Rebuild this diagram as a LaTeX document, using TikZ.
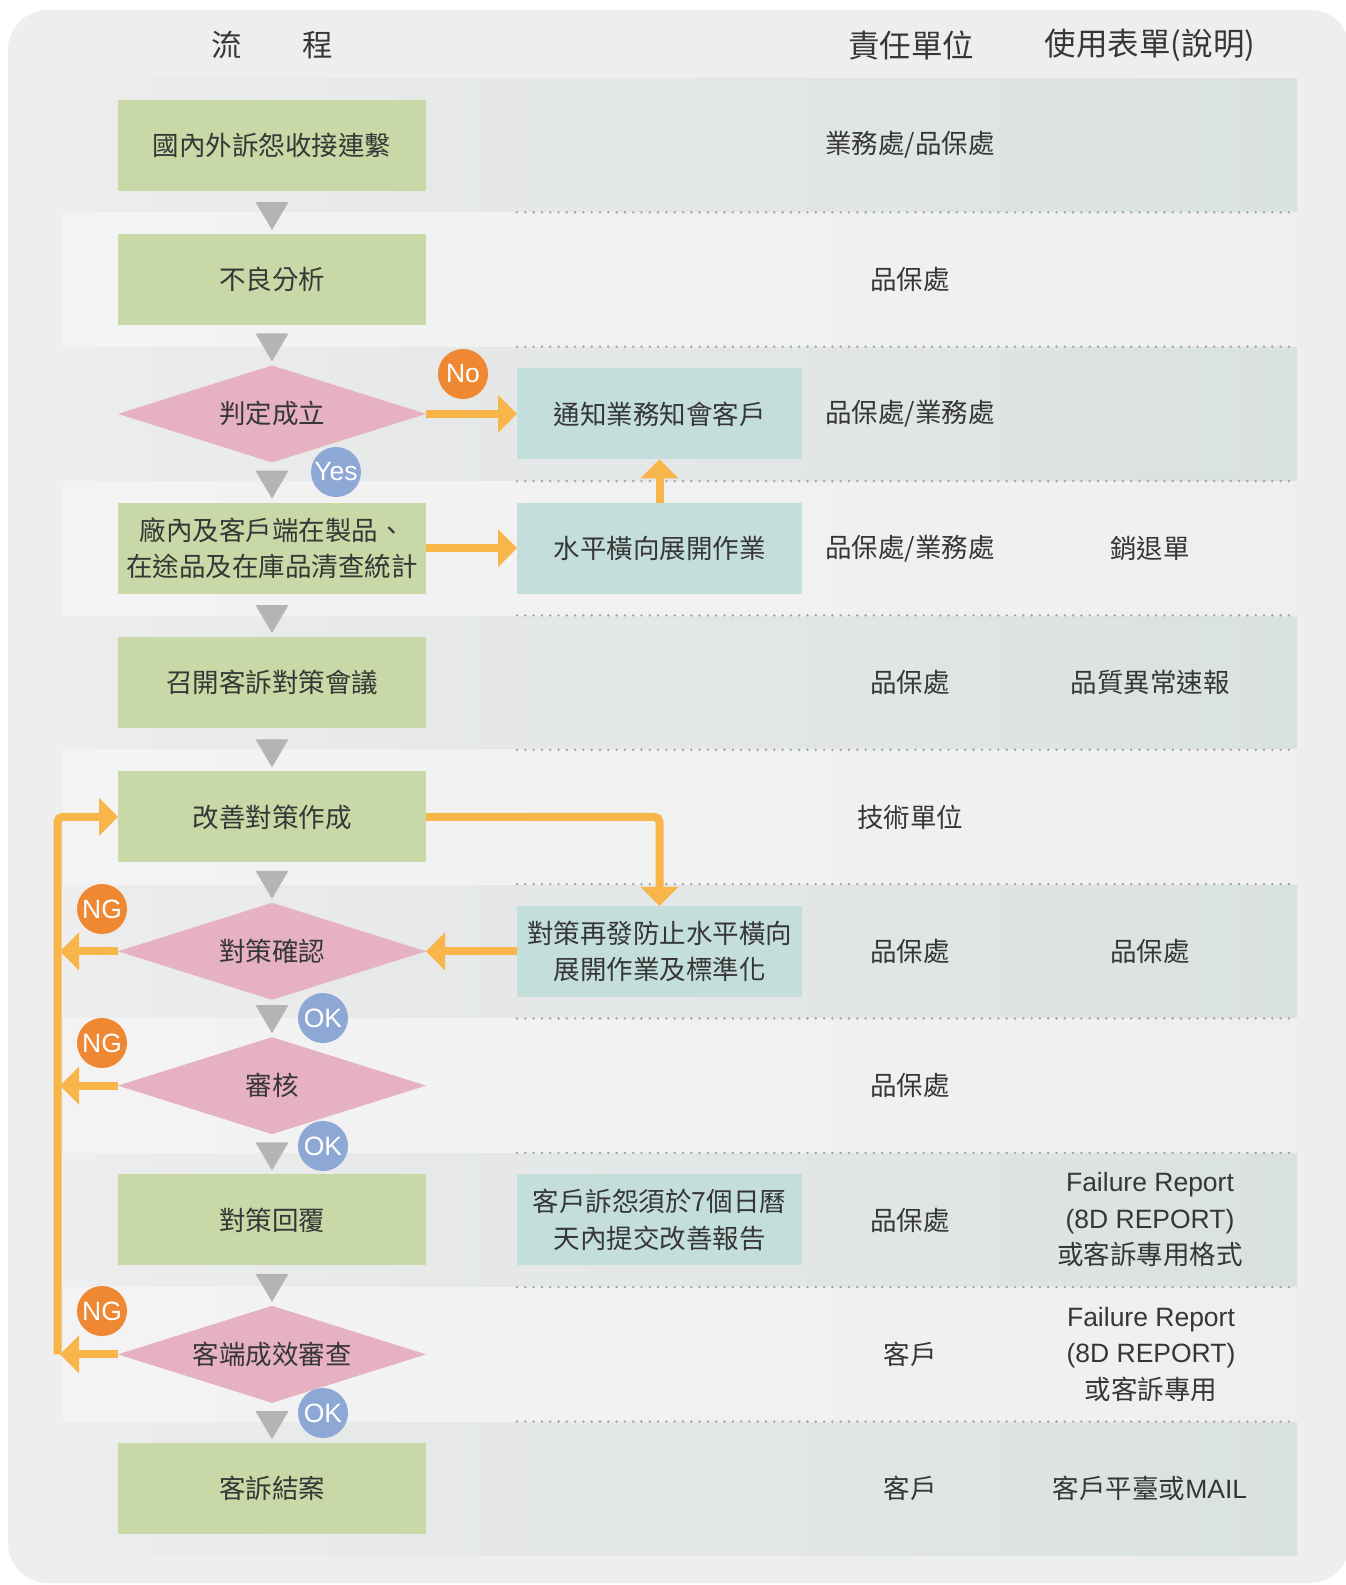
\documentclass[tikz,border=0pt]{standalone}
\usepackage{fontspec}
\setmainfont{Noto Sans CJK TC}
\newfontfamily\lat{Liberation Sans}
\usetikzlibrary{shapes.geometric,arrows.meta,calc}
\definecolor{bgc}{HTML}{EEEEEE}
\definecolor{bandL}{HTML}{ECECEC}
\definecolor{bandR}{HTML}{DAE1E1}
\definecolor{evenL}{HTML}{F3F3F3}
\definecolor{evenR}{HTML}{EFEFEF}
\definecolor{boxg}{HTML}{C8D8A6}
\definecolor{boxt}{HTML}{C4DFDB}
\definecolor{dpink}{HTML}{E6B1C0}
\definecolor{trig}{HTML}{B3B4B4}
\definecolor{olc}{HTML}{F7B54A}
\definecolor{ngc}{HTML}{EE8832}
\definecolor{okc}{HTML}{8EA8D6}
\definecolor{txt}{HTML}{363636}
\definecolor{dotc}{HTML}{A0A0A0}
\newcommand\flowtri[1]{\fill[trig] ($(#1.north)+(0,-4)$) -- ++(-16.5,-28) -- ++(33,0) -- cycle;}
\begin{document}
\begin{tikzpicture}[x=1pt,y=-1pt,
  every node/.style={text=txt, font=\fontsize{26.5}{36.5}\selectfont, inner sep=0pt, outer sep=0pt, align=center},
  gbox/.style={rectangle, fill=boxg, minimum width=308pt, minimum height=91pt},
  tbox/.style={rectangle, fill=boxt, minimum width=285pt, minimum height=91pt},
  dec/.style={diamond, fill=dpink, aspect=3.2, minimum width=308pt, minimum height=97pt},
  badge/.style={circle, minimum size=50pt, text=white, font=\lat\fontsize{26.5}{26.5}\selectfont},
  ngb/.style={badge, fill=ngc},
  okb/.style={badge, fill=okc},
  oflow/.style={draw=olc, line width=8pt, rounded corners=5pt},
  oflowarrow/.style={oflow, -{Triangle[width=38pt,length=19pt,line width=0pt]}},
  rowsep/.style={draw=dotc, line width=2.6pt, line cap=round, dash pattern=on 0pt off 8.3pt},
  hdr/.style={font=\fontsize{31.5}{31.5}\selectfont}
]
\useasboundingbox (0,0) rectangle (1345,1585);
\fill[white] (0,0) rectangle (1345,1585);
\fill[bgc, rounded corners=40pt] (8,10) rectangle (1350,1583);
% bands
\foreach \t in {78,346.7,615.4,884.1,1152.8,1421.5}
  \shade[left color=bandL, right color=bandR] (97,\t) rectangle (1297,\t+134.35);
\foreach \t in {212.35,481.05,749.75,1018.45,1287.15}
  \shade[left color=evenL, right color=evenR] (63,\t) rectangle (1297,\t+134.35);
\foreach \t in {212.35,346.7,481.05,615.4,749.75,884.1,1018.45,1152.8,1287.15,1421.5}
  \draw[rowsep] (517,\t) -- (1297,\t);
% headers
\node[hdr,font=\fontsize{30.5}{30.5}\selectfont] (h1) at (272,45) {流　　程};
\node[hdr] (h2) at (911,45) {責任單位};
\node[hdr] (h3) at (1150,45) {使用表單(說明)};
% flow nodes
\node[gbox] (b1) at (272,145.18) {國內外訴怨收接連繫};
\node[gbox] (b2) at (272,279.53) {不良分析};
\node[dec] (d3) at (272,413.88) {判定成立};
\node[gbox] (b4) at (272,548.23) {廠內及客戶端在製品、\\在途品及在庫品清查統計};
\node[gbox] (b5) at (272,682.58) {召開客訴對策會議};
\node[gbox] (b6) at (272,816.93) {改善對策作成};
\node[dec] (d7) at (272,951.28) {對策確認};
\node[dec] (d8) at (272,1085.63) {審核};
\node[gbox] (b9) at (272,1219.98) {對策回覆};
\node[dec] (d10) at (272,1354.33) {客端成效審查};
\node[gbox] (b11) at (272,1488.68) {客訴結案};
\node[tbox] (t3) at (659.5,413.88) {通知業務知會客戶};
\node[tbox] (t4) at (659.5,548.23) {水平橫向展開作業};
\node[tbox] (t7) at (659.5,951.28) {對策再發防止水平橫向\\展開作業及標準化};
\node[tbox] (t9) at (659.5,1219.98) {客戶訴怨須於7個日曆\\天內提交改善報告};
% gray flow triangles
\flowtri{b2}\flowtri{d3}\flowtri{b4}\flowtri{b5}\flowtri{b6}
\flowtri{d7}\flowtri{d8}\flowtri{b9}\flowtri{d10}\flowtri{b11}
% orange connectors
\coordinate (lt) at (57.5,816.93);
\draw[oflowarrow] (d3.east) -- (t3.west);
\draw[oflowarrow] (b4.east) -- (t4.west);
\draw[oflowarrow] (t4.north) -- (t3.south);
\draw[oflowarrow] (b6.east) -| (t7.north);
\draw[oflowarrow] (t7.west) -- (d7.east);
\draw[oflowarrow] (d10.west -| lt) -- (lt) -- (b6.west);
\draw[oflowarrow] (d7.west) -- ($(d7.west -| lt)+(2.5,0)$);
\draw[oflowarrow] (d8.west) -- ($(d8.west -| lt)+(2.5,0)$);
\draw[oflowarrow] (d10.west) -- ($(d10.west -| lt)+(2.5,0)$);
% badges
\node[ngb] (no) at (463,374) {No};
\node[okb] (yes) at (336,472) {Yes};
\node[ngb] (ng1) at (102,909) {NG};
\node[okb] (ok1) at (323,1018) {OK};
\node[ngb] (ng2) at (102,1043) {NG};
\node[okb] (ok2) at (323,1146) {OK};
\node[ngb] (ng3) at (102,1311) {NG};
\node[okb] (ok3) at (323,1413) {OK};
% responsibility column
\node (r1) at (910,145.18) {業務處/品保處};
\node (r2) at (910,279.53) {品保處};
\node (r3) at (910,413.88) {品保處/業務處};
\node (r4) at (910,548.23) {品保處/業務處};
\node (r5) at (910,682.58) {品保處};
\node (r6) at (910,816.93) {技術單位};
\node (r7) at (910,951.28) {品保處};
\node (r8) at (910,1085.63) {品保處};
\node (r9) at (910,1219.98) {品保處};
\node (r10) at (910,1354.33) {客戶};
\node (r11) at (910,1488.68) {客戶};
% forms column
\node (f4) at (1150,548.23) {銷退單};
\node (f5) at (1150,682.58) {品質異常速報};
\node (f7) at (1150,951.28) {品保處};
\node (f9) at (1150,1219.98) {{\lat Failure Report}\\{\lat (8D REPORT)}\\或客訴專用格式};
\node (f10) at (1151,1354.33) {{\lat Failure Report}\\{\lat (8D REPORT)}\\或客訴專用};
\node (f11) at (1150,1488.68) {客戶平臺或{\lat MAIL}};
\end{tikzpicture}
\end{document}
